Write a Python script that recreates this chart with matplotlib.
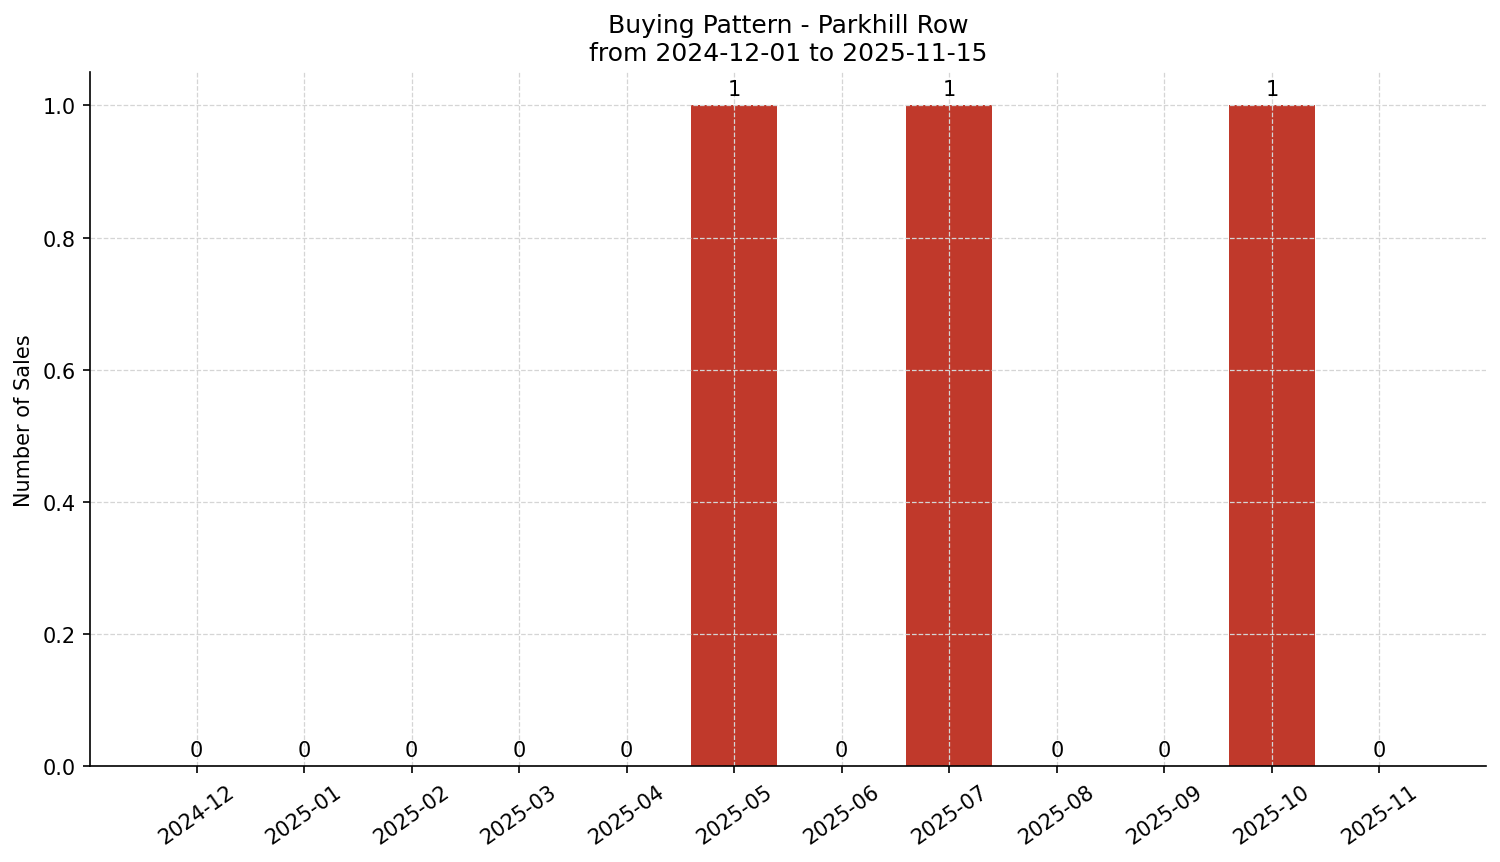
import matplotlib
matplotlib.use("Agg")
import matplotlib.pyplot as plt

months = ["2024-12", "2025-01", "2025-02", "2025-03", "2025-04", "2025-05",
          "2025-06", "2025-07", "2025-08", "2025-09", "2025-10", "2025-11"]
sales = [0, 0, 0, 0, 0, 1, 0, 1, 0, 0, 1, 0]

fig, ax = plt.subplots(figsize=(10.006, 5.753), dpi=150)
fig.subplots_adjust(left=0.06, right=0.99, top=0.915, bottom=0.111)

x = range(len(months))
bars = ax.bar(x, sales, width=0.8, color="#c0392b")
for xi, v in zip(x, sales):
    ax.annotate(str(v), (xi, v), xytext=(0, 3), textcoords="offset points",
                ha="center", va="bottom", fontsize=10)

ax.set_xticks(list(x))
ax.set_xticklabels(months, rotation=35)
ax.set_ylabel("Number of Sales")
ax.set_title("Buying Pattern - Parkhill Row\nfrom 2024-12-01 to 2025-11-15")
ax.grid(True, linestyle="--", linewidth=0.6, color="#d5d5d5")
ax.spines["top"].set_visible(False)
ax.spines["right"].set_visible(False)

fig.savefig("out.png")
